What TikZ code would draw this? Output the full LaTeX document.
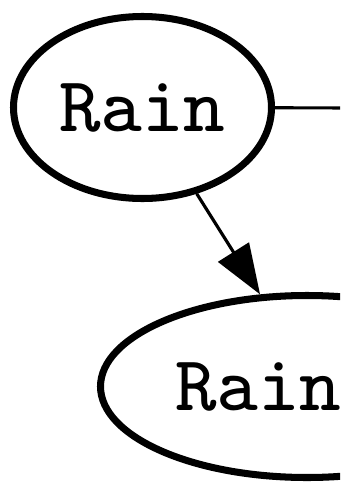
\documentclass[tikz,border=0pt]{standalone}
\usepackage{tikz}
\usetikzlibrary{shapes.geometric, arrows.meta, positioning}
\font\rainfont=cmtt8 at 44.5pt

\begin{document}
\begin{tikzpicture}[
  every node/.style={font=\rainfont},
  var/.style={ellipse, draw=black, line width=4pt, inner sep=0pt,
              minimum width=5.16cm, minimum height=3.64cm},
  wide/.style={minimum width=8.26cm, text width=5.28cm, align=left},
  arr/.style={-{Triangle[length=1.0cm, width=0.72cm]}, line width=1.8pt},
  link/.style={line width=1.8pt}
]
  % visible window
  \clip (0,0) rectangle (6.8,-9.7);

  % Nodes
  \node[var]       (rainA) at (2.85, -2.15) {Rain};
  \node[var, wide] (rainB) at (6.14, -7.73) {Rain};

  % off-picture end of the right edge
  \coordinate (offR) at (7.4, -2.16);

  % Edges
  \draw[link] (rainA) -- (offR);
  \draw[arr]  (rainA) -- (rainB.117);
\end{tikzpicture}
\end{document}
